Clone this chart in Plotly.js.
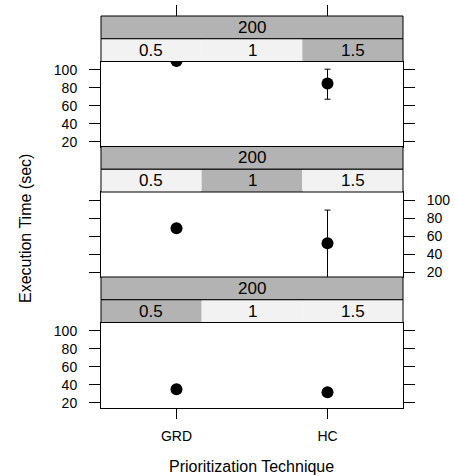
<!DOCTYPE html>
<html>
<head>
<meta charset="utf-8">
<script src="https://cdn.plot.ly/plotly-3.0.1.min.js"></script>
<style>html,body{margin:0;padding:0;background:#fff;}#chart{width:455px;height:476px;}</style>
</head>
<body>
<div id="chart"></div>
<script>
// ---- data ----
var techniques = ['GRD', 'HC'];
var outerLevel = '200';
var innerLevels = ['0.5', '1', '1.5'];
// panels from top to bottom correspond to inner level 1.5, 1, 0.5
var panelLevels = ['1.5', '1', '0.5'];
var mean_15 = [109.5, 84.6];
var upper_15 = [109.5, 100.5];
var lower_15 = [109.5, 67.3];
var mean_1 = [68.9, 52.4];
var upper_1 = [68.9, 89.0];
var lower_1 = [68.9, 14.0];
var mean_05 = [35.1, 31.8];
var upper_05 = [35.1, 33.8];
var lower_05 = [35.1, 29.8];
var yTicks = [20, 40, 60, 80, 100];
var xTitle = 'Prioritization Technique';
var yTitle = 'Execution Time (sec)';

// ---- layout geometry ----
var W = 455, H = 476;
var FONT = 'Liberation Sans, Arial, sans-serif';
var xl = 101, xr = 403;
var blockTop = [16, 146.5, 277];
var stripH = 22.75, plotH = 85;
var yRange = [15, 109];
var darkGray = '#b3b3b3', lightGray = '#f2f2f2';
var tickSize = 14, stripSize = 17, titleSize = 16;

function px(x) { return x / W; }
function py(y) { return 1 - y / H; }

var means = [mean_15, mean_1, mean_05];
var uppers = [upper_15, upper_1, upper_05];
var lowers = [lower_15, lower_1, lower_05];

var traces = [];
for (var i = 0; i < 3; i++) {
  var sfx = i === 0 ? '' : String(i + 1);
  traces.push({
    type: 'scatter', mode: 'markers',
    x: techniques, y: means[i],
    xaxis: 'x' + sfx, yaxis: 'y' + sfx,
    marker: {color: 'black', size: 12},
    error_y: {
      type: 'data', symmetric: false,
      array: uppers[i].map(function (u, k) { return u - means[i][k]; }),
      arrayminus: lowers[i].map(function (l, k) { return means[i][k] - l; }),
      color: 'black', thickness: 1, width: 3
    },
    cliponaxis: true, hoverinfo: 'skip'
  });
}
// helper trace for the top tick axis
traces.push({type: 'scatter', mode: 'markers', x: techniques, y: [null, null],
  xaxis: 'x4', yaxis: 'y', hoverinfo: 'skip', showlegend: false});

var layout = {
  width: W, height: H,
  margin: {l: 0, r: 0, t: 0, b: 0, pad: 0},
  paper_bgcolor: 'white', plot_bgcolor: 'white',
  showlegend: false, hovermode: false,
  font: {family: FONT, size: tickSize, color: 'black'},
  shapes: [], annotations: []
};

for (var i = 0; i < 3; i++) {
  var sfx = i === 0 ? '' : String(i + 1);
  var T = blockTop[i];
  var pTop = T + 2 * stripH, pBot = pTop + plotH;
  var xa = {
    domain: [px(xl), px(xr)], anchor: 'y' + sfx, type: 'category',
    range: [-0.5, 1.5], showgrid: false, zeroline: false,
    showline: true, linecolor: 'black', linewidth: 1, mirror: true,
    ticks: '', showticklabels: false, fixedrange: true
  };
  if (i === 2) {
    xa.ticks = 'outside'; xa.ticklen = 10; xa.tickwidth = 1; xa.tickcolor = 'black';
    xa.showticklabels = true; xa.ticklabelstandoff = 6;
    xa.tickfont = {family: FONT, size: tickSize, color: 'black'};
  }
  var ya = {
    domain: [py(pBot), py(pTop)], anchor: 'x' + sfx, range: yRange,
    showgrid: false, zeroline: false, showline: true, linecolor: 'black',
    linewidth: 1, mirror: 'ticks', ticks: 'outside', ticklen: 11,
    tickwidth: 1, tickcolor: 'black', tickvals: yTicks,
    side: i === 1 ? 'right' : 'left', ticklabelstandoff: 9,
    tickfont: {family: FONT, size: tickSize, color: 'black'}, fixedrange: true
  };
  layout['xaxis' + sfx] = xa;
  layout['yaxis' + sfx] = ya;

  // outer strip
  layout.shapes.push({type: 'rect', xref: 'paper', yref: 'paper',
    x0: px(xl), x1: px(xr), y0: py(T + stripH), y1: py(T),
    fillcolor: darkGray, line: {color: 'black', width: 1}, layer: 'above'});
  layout.annotations.push({xref: 'paper', yref: 'paper', x: px((xl + xr) / 2),
    y: py(T + stripH / 2), text: outerLevel, showarrow: false,
    xanchor: 'center', yanchor: 'middle',
    font: {family: FONT, size: stripSize, color: 'black'}});
  // inner strip
  var seg = (xr - xl) / innerLevels.length;
  for (var k = 0; k < innerLevels.length; k++) {
    layout.shapes.push({type: 'rect', xref: 'paper', yref: 'paper',
      x0: px(xl + k * seg), x1: px(xl + (k + 1) * seg),
      y0: py(T + 2 * stripH), y1: py(T + stripH),
      fillcolor: innerLevels[k] === panelLevels[i] ? darkGray : lightGray,
      line: {width: 0}, layer: 'above'});
    layout.annotations.push({xref: 'paper', yref: 'paper',
      x: px(xl + (k + 0.5) * seg), y: py(T + 1.5 * stripH), text: innerLevels[k],
      showarrow: false, xanchor: 'center', yanchor: 'middle',
      font: {family: FONT, size: stripSize, color: 'black'}});
  }
  layout.shapes.push({type: 'rect', xref: 'paper', yref: 'paper',
    x0: px(xl), x1: px(xr), y0: py(T + 2 * stripH), y1: py(T + stripH),
    fillcolor: 'rgba(0,0,0,0)', line: {color: 'black', width: 1}, layer: 'above'});
}

// top tick axis above the first strip
layout.xaxis4 = {
  domain: [px(xl), px(xr)], anchor: 'free', overlaying: 'x', side: 'top',
  position: py(blockTop[0]), type: 'category', range: [-0.5, 1.5],
  showgrid: false, zeroline: false, showline: false, ticks: 'outside',
  ticklen: 11, tickwidth: 1, tickcolor: 'black', showticklabels: false,
  fixedrange: true
};

// axis titles
layout.annotations.push({xref: 'paper', yref: 'paper', x: px(251.5), y: 0,
  yshift: -1, xanchor: 'center', yanchor: 'bottom', text: xTitle,
  showarrow: false, font: {family: FONT, size: titleSize, color: 'black'}});
layout.annotations.push({xref: 'paper', yref: 'paper', x: px(25), y: py(229),
  xanchor: 'center', yanchor: 'middle', textangle: -90, text: yTitle,
  showarrow: false, font: {family: FONT, size: titleSize, color: 'black'}});

Plotly.newPlot('chart', traces, layout, {staticPlot: true, displayModeBar: false});
</script>
</body>
</html>
